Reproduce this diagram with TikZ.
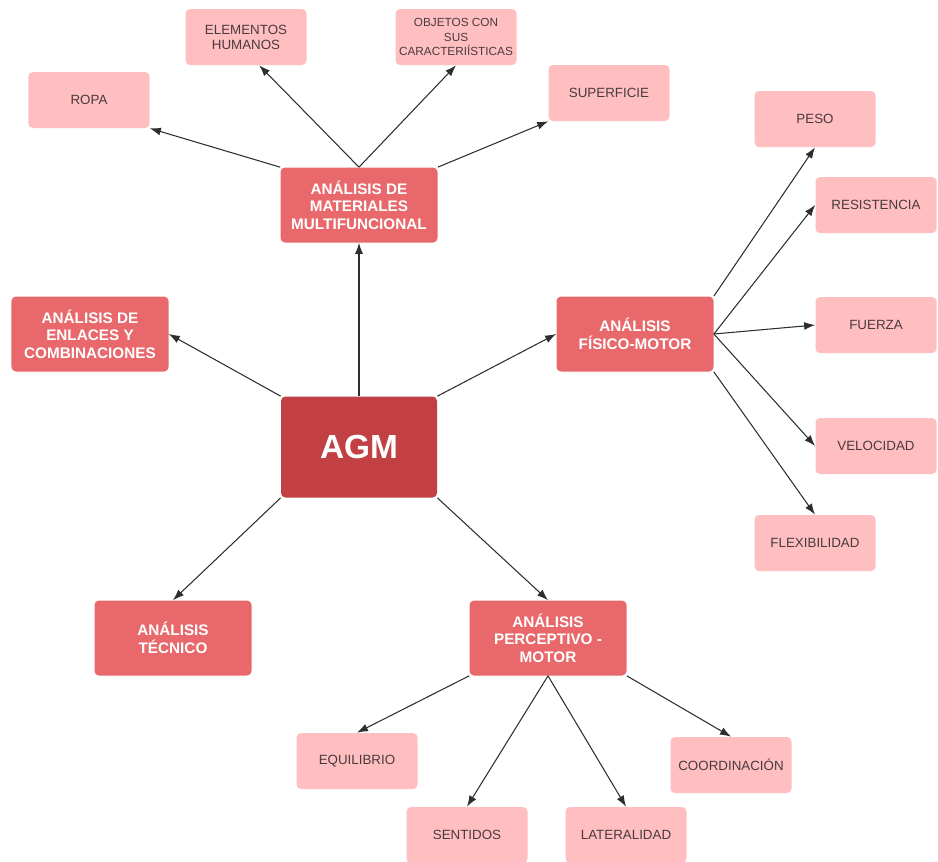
\documentclass[tikz,border=0pt]{standalone}
\usepackage{fontspec}
\setmainfont{Liberation Sans}
\usetikzlibrary{arrows.meta}

\definecolor{rosaclaro}{HTML}{FFBFC1}
\definecolor{rosamedio}{HTML}{E8686B}
\definecolor{rojoagm}{HTML}{C24043}
\definecolor{textohoja}{HTML}{4A3A3B}
\definecolor{linea}{HTML}{2E2E2E}

\begin{document}
\begin{tikzpicture}[x=0.2mm, y=-0.2mm, >={Latex[length=2.2mm,width=1.6mm]},
		hoja/.style={fill=rosaclaro, rounded corners=2.5pt, minimum width=2.42cm, minimum height=1.12cm, inner sep=0pt, align=center, text=textohoja, font=\fontsize{7.6}{8.5}\selectfont},
		rama/.style={fill=rosamedio, rounded corners=2.5pt, minimum width=3.14cm, minimum height=1.5cm, inner sep=0pt, align=center, text=white, font=\fontsize{8.7}{10}\selectfont\bfseries},
		raiz/.style={fill=rojoagm, rounded corners=2.5pt, minimum width=3.12cm, minimum height=2.02cm, inner sep=0pt, text=white, font=\fontsize{19}{22}\selectfont\bfseries},
		flecha/.style={->, linea, line width=0.6pt}]
		\useasboundingbox (0,0) rectangle (938,861);
		
		% Centro
		\node[raiz] (agm) at (359,447) {AGM};
		
		% Ramas principales
		\node[rama] (mat) at (359,205) {ANÁLISIS DE\\MATERIALES\\MULTIFUNCIONAL};
		\node[rama] (enl) at (90,334) {ANÁLISIS DE\\ENLACES Y\\COMBINACIONES};
		\node[rama] (fis) at (635,334) {ANÁLISIS\\FÍSICO-MOTOR};
		\node[rama] (tec) at (173,638) {ANÁLISIS\\TÉCNICO};
		\node[rama] (per) at (548,638) {ANÁLISIS\\PERCEPTIVO -\\MOTOR};
		
		% Hojas de materiales
		\node[hoja] (ropa) at (89,100) {ROPA};
		\node[hoja] (elem) at (246,37) {ELEMENTOS\\HUMANOS};
		\node[hoja, font=\fontsize{6.7}{8.5}\selectfont] (obj) at (456,37) {OBJETOS CON\\SUS\\CARACTERIÍSTICAS};
		\node[hoja] (sup) at (609,93) {SUPERFICIE};
		
		% Hojas fisico-motor
		\node[hoja] (peso) at (815,119) {PESO};
		\node[hoja] (res) at (876,205) {RESISTENCIA};
		\node[hoja] (fue) at (876,325) {FUERZA};
		\node[hoja] (vel) at (876,446) {VELOCIDAD};
		\node[hoja] (flex) at (815,543) {FLEXIBILIDAD};
		
		% Hojas perceptivo-motor
		\node[hoja] (equi) at (357,761) {EQUILIBRIO};
		\node[hoja] (sen) at (467,835) {SENTIDOS};
		\node[hoja] (lat) at (626,835) {LATERALIDAD};
		\node[hoja] (coor) at (731,765) {COORDINACIÓN};
		
		% Flechas desde AGM
		\draw[flecha] (agm.north) -- (mat.south);
		\draw[flecha] (agm.north west) -- (enl.east);
		\draw[flecha] (agm.north east) -- (fis.west);
		\draw[flecha] (agm.south west) -- (tec.north);
		\draw[flecha] (agm.south east) -- (per.north);
		
		% Flechas de materiales
		\draw[flecha] (mat.north west) -- (ropa.south east);
		\draw[flecha] (mat.north) -- (elem.-65);
		\draw[flecha] (mat.north) -- (obj.south);
		\draw[flecha] (mat.north east) -- (sup.south west);
		
		% Flechas fisico-motor
		\draw[flecha] (fis.north east) -- (peso.south);
		\draw[flecha] (fis.east) -- (res.west);
		\draw[flecha] (fis.east) -- (fue.west);
		\draw[flecha] (fis.east) -- (vel.west);
		\draw[flecha] (fis.south east) -- (flex.north);
		
		% Flechas perceptivo-motor
		\draw[flecha] (per.south west) -- (equi.north);
		\draw[flecha] (per.south) -- (sen.north);
		\draw[flecha] (per.south) -- (lat.north);
		\draw[flecha] (per.south east) -- (coor.north);
		
	\end{tikzpicture}
\end{document}
